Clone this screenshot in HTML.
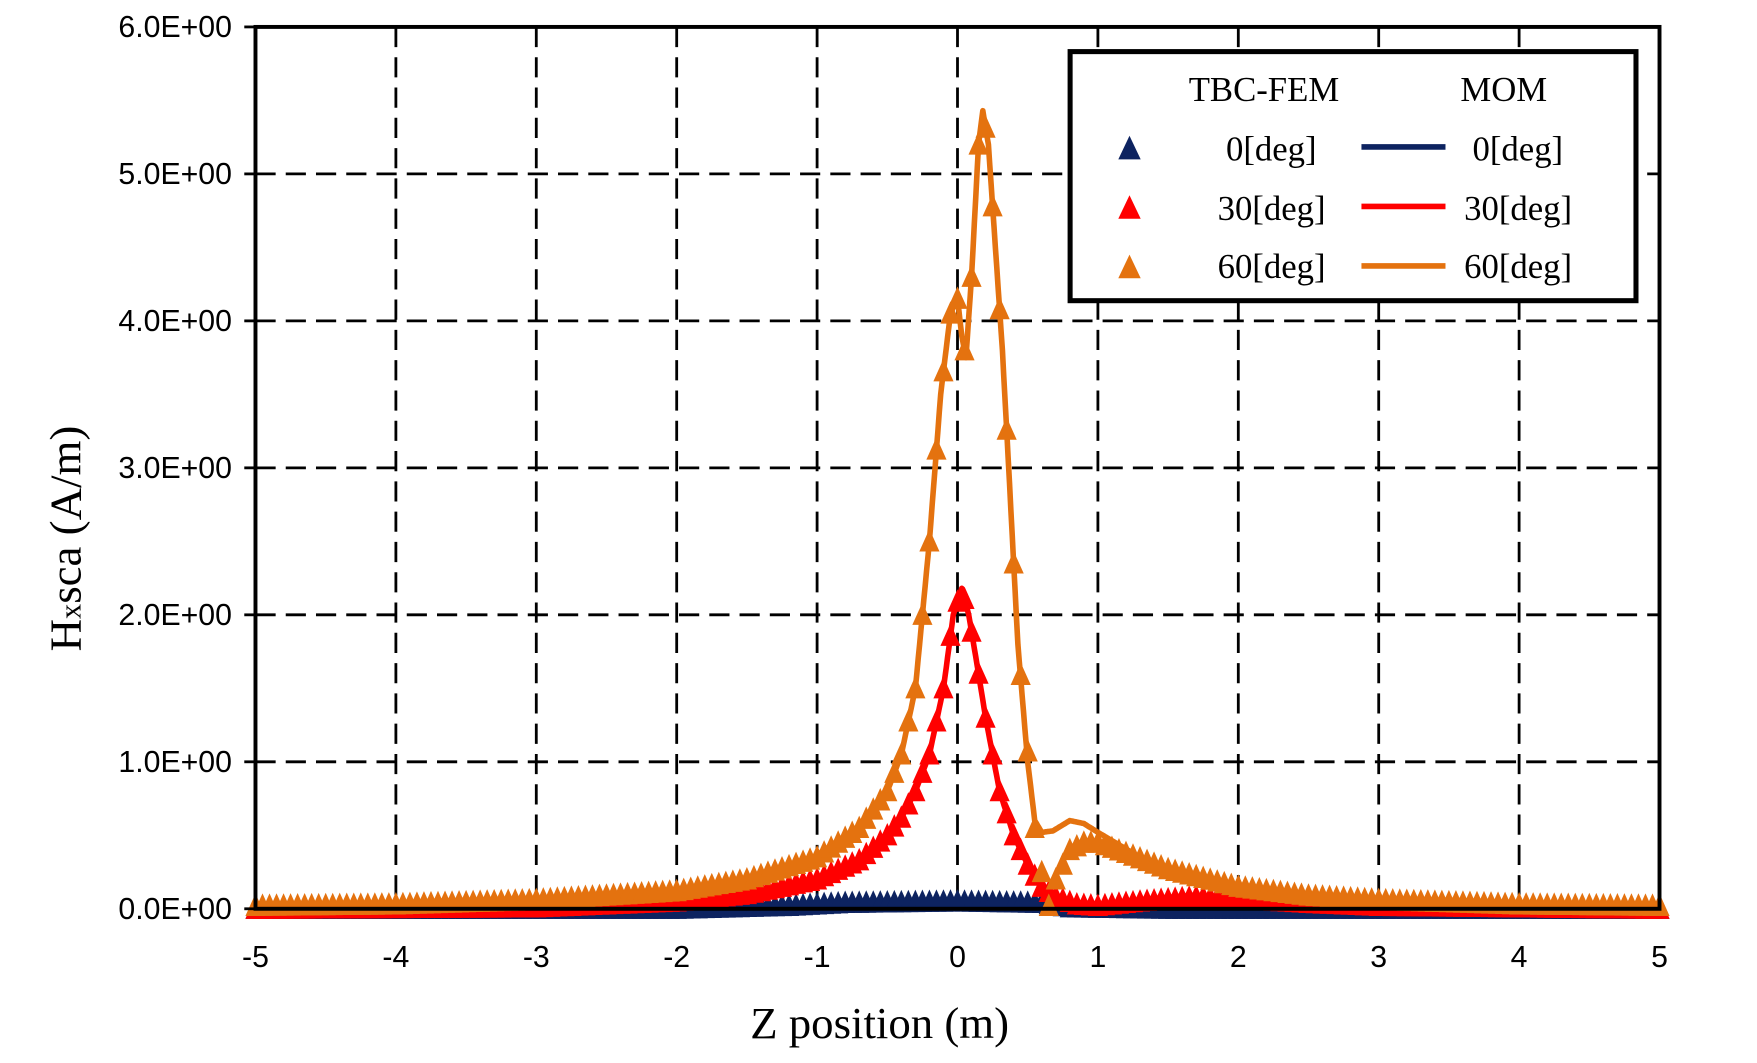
<!DOCTYPE html><html><head><style>html,body{margin:0;padding:0;background:#fff}</style></head><body>
<svg id="s" width="1757" height="1058" viewBox="0 0 1568 943" preserveAspectRatio="none" xmlns="http://www.w3.org/2000/svg">
<rect width="1570" height="945" fill="#fff"/>
<g id="grid" stroke="#000" stroke-width="2.5" stroke-dasharray="18,9"></g>
<g id="data"></g>
<rect x="228" y="24" width="1253" height="786" fill="none" stroke="#000" stroke-width="3.5"/>
<g id="ticks" font-family="Liberation Sans, sans-serif" font-size="27" fill="#000"></g>
<text x="785" y="925" font-family="Liberation Serif, serif" font-size="40" text-anchor="middle">Z position  (m)</text>
<text transform="translate(72,480) rotate(-90)" font-family="Liberation Serif, serif" font-size="40" text-anchor="middle">H<tspan font-size="27">x</tspan>sca (A/m)</text>
<rect x="955" y="46" width="505" height="222" fill="#fff" stroke="#000" stroke-width="4.5"/>
<g font-family="Liberation Serif, serif" font-size="31" fill="#000">
<text x="1128" y="90" text-anchor="middle">TBC-FEM</text><text x="1342" y="90" text-anchor="middle">MOM</text>
<text x="1175" y="143" text-anchor="end">0[deg]</text><text x="1395" y="143" text-anchor="end">0[deg]</text>
<text x="1183" y="196" text-anchor="end">30[deg]</text><text x="1403" y="196" text-anchor="end">30[deg]</text>
<text x="1183" y="248" text-anchor="end">60[deg]</text><text x="1403" y="248" text-anchor="end">60[deg]</text>
</g>
<polygon points="1008,121 998,142 1018,142" fill="#0d2360"/>
<polygon points="1008,174 998,195 1018,195" fill="#ff0000"/>
<polygon points="1008,227 998,248 1018,248" fill="#e4720f"/>
<line x1="1215" y1="131" x2="1290" y2="131" stroke="#0d2360" stroke-width="5"/>
<line x1="1215" y1="184" x2="1290" y2="184" stroke="#ff0000" stroke-width="5"/>
<line x1="1215" y1="237" x2="1290" y2="237" stroke="#e4720f" stroke-width="5"/>
</svg>
<script>
var NS="http://www.w3.org/2000/svg";
function X(z){return 228+(z+5)*125.3}function Y(v){return 810-v*131}
var g=document.getElementById('grid'),t=document.getElementById('ticks'),d=document.getElementById('data');
function el(p,n,a){var e=document.createElementNS(NS,n);for(var k in a)e.setAttribute(k,a[k]);p.appendChild(e);return e}
for(var i=-4;i<=4;i++)el(g,'line',{x1:X(i),x2:X(i),y1:24,y2:810});
for(var j=1;j<=5;j++)el(g,'line',{x1:228,x2:1481,y1:Y(j),y2:Y(j)});
for(var i=-5;i<=5;i++){var e=el(t,'text',{x:X(i),y:862,'text-anchor':'middle'});e.textContent=i;}
for(var j=0;j<=6;j++){var e=el(t,'text',{x:207,y:Y(j)+9,'text-anchor':'end'});e.textContent=j.toFixed(1)+'E+00';
el(t,'line',{x1:218,x2:228,y1:Y(j),y2:Y(j),stroke:'#000','stroke-width':2.5});}
function interp(P,z){if(z<=P[0][0])return P[0][1];for(var k=1;k<P.length;k++)if(z<=P[k][0]){var a=P[k-1],b=P[k];return a[1]+(b[1]-a[1])*(z-a[0])/(b[0]-a[0]);}return P[P.length-1][1]}
var O=[[-5,0.02],[-4,0.03],[-3,0.06],[-2,0.12],[-1.5,0.2],[-1,0.35],[-0.7,0.55],[-0.5,0.8],[-0.4,1.05],[-0.3,1.5],[-0.2,2.5],[-0.12,3.5],[-0.05,4.05],[0,4.15],[0.03,3.9],[0.06,3.75],[0.1,4.3],[0.15,5.2],[0.18,5.43],[0.22,5.2],[0.27,4.5],[0.32,3.8],[0.37,2.9],[0.43,1.8],[0.5,1.0],[0.55,0.6],[0.6,0.52],[0.68,0.53],[0.8,0.6],[0.9,0.58],[1.0,0.52],[1.3,0.35],[1.6,0.24],[2,0.15],[2.5,0.09],[3,0.06],[4,0.03],[5,0.02]];
var OM=O.slice(0,24).concat([[0.55,0.55],[0.6,0.25],[0.65,0.02],[0.7,0.2],[0.8,0.4],[0.9,0.45],[1.0,0.45],[1.2,0.38],[1.5,0.27],[2,0.15],[2.5,0.09],[3,0.06],[4,0.03],[5,0.02]]);
var R=[[-5,0],[-3,0.01],[-2,0.05],[-1.5,0.1],[-1,0.2],[-0.7,0.33],[-0.5,0.5],[-0.4,0.62],[-0.3,0.8],[-0.2,1.05],[-0.1,1.5],[-0.03,2.0],[0.03,2.18],[0.08,2.0],[0.15,1.6],[0.2,1.3],[0.3,0.8],[0.4,0.5],[0.5,0.3],[0.6,0.15],[0.7,0.08],[0.85,0.03],[1.0,0.02],[1.3,0.05],[1.7,0.08],[2,0.07],[2.5,0.04],[3,0.02],[4,0.01],[5,0]];
var B=[[-5,0],[-2,0],[-1.2,0.02],[-0.8,0.04],[0,0.05],[0.6,0.04],[0.8,0.01],[1.5,0],[5,0]];
function curve(P,c,w){var s='';for(var z=-5;z<=5.0001;z+=0.01)s+=(s?'L':'M')+X(z).toFixed(1)+','+Y(interp(P,z)).toFixed(1);el(d,'path',{d:s,fill:'none',stroke:c,'stroke-width':w,'stroke-linejoin':'round'});}
function marks(P,c){for(var k=0;k<=200;k++){var z=-5+k*0.05;var x=X(z),y=Y(interp(P,z));el(d,'polygon',{points:(x)+','+(y-11)+' '+(x-9)+','+(y+9)+' '+(x+9)+','+(y+9),fill:c});}}
curve(B,'#0d2360',5);curve(R,'#ff0000',5);curve(O,'#e4720f',5);
marks(B,'#0d2360');marks(R,'#ff0000');marks(OM,'#e4720f');
</script>
</body></html>
